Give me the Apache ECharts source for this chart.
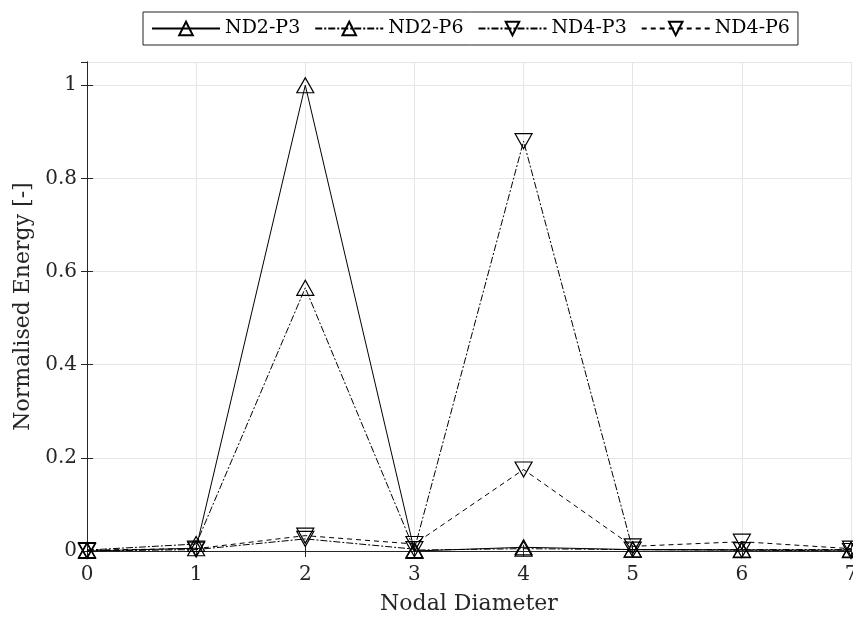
<!DOCTYPE html>
<html>
<head>
<meta charset="utf-8">
<script src="https://cdn.jsdelivr.net/npm/echarts@6/dist/echarts.min.js"></script>
<style>
  html, body { margin: 0; padding: 0; background: #fff; }
  #chart { width: 853px; height: 619px; }
</style>
</head>
<body>
<div id="chart"></div>
<script>
// Nodal diameters on the x axis
const nodalDiameters = [0, 1, 2, 3, 4, 5, 6, 7];

// Normalised energy per nodal diameter for each case
const nd2P3 = [0.000, 0.006, 1.000, 0.000, 0.008, 0.003, 0.002, 0.002];
const nd2P6 = [0.002, 0.015, 0.565, 0.002, 0.005, 0.003, 0.003, 0.003];
const nd4P3 = [0.000, 0.003, 0.026, 0.004, 0.880, 0.003, 0.002, 0.000];
const nd4P6 = [0.002, 0.005, 0.033, 0.015, 0.175, 0.010, 0.020, 0.005];

const seriesNames = ['ND2-P3', 'ND2-P6', 'ND4-P3', 'ND4-P6'];
const yTicks = [0, 0.2, 0.4, 0.6, 0.8, 1];

const upTri = 'path://M5,0 L10,9 L0,9 Z';
const downTri = 'path://M0,0 L10,0 L5,9 Z';
const font = '"DejaVu Serif", "Liberation Serif", serif';
const axisColor = '#262626';

function pairs(vals) {
  return nodalDiameters.map((x, i) => [x, vals[i]]);
}

function makeSeries(name, vals, symbol, dash) {
  return {
    name: name,
    type: 'line',
    xAxisIndex: 0,
    yAxisIndex: 0,
    data: pairs(vals),
    symbol: symbol,
    symbolSize: [17, 15],
    showAllSymbol: true,
    clip: false,
    lineStyle: { color: '#000', width: 1, type: dash },
    itemStyle: { color: 'rgba(255,255,255,0)', borderColor: '#000', borderWidth: 1.2 },
    emphasis: { disabled: true },
    animation: false
  };
}

// Mirror axes close the box and carry inward ticks on top and right
const mirrorX = {
  type: 'value', position: 'top', min: 0, max: 7, interval: 1,
  axisLine: { show: true, lineStyle: { color: axisColor } },
  axisTick: { show: true, inside: true, length: 6, lineStyle: { color: axisColor } },
  axisLabel: { show: false }, splitLine: { show: false }
};
const mirrorY = {
  type: 'value', position: 'right', min: 0, max: 1.05, interval: 0.2,
  axisLine: { show: true, lineStyle: { color: axisColor } },
  axisTick: { show: true, inside: true, length: 6, lineStyle: { color: axisColor } },
  axisLabel: { show: false }, splitLine: { show: false }
};

const chart = echarts.init(document.getElementById('chart'));
chart.setOption({
  backgroundColor: '#fff',
  animation: false,
  legend: {
    data: seriesNames,
    left: 143,
    top: 12,
    orient: 'horizontal',
    itemWidth: 68,
    itemHeight: 17,
    itemGap: 14,
    padding: [7, 8, 7, 8],
    borderColor: '#222',
    borderWidth: 1,
    textStyle: { fontFamily: font, fontSize: 19, color: '#000' }
  },
  grid: {
    left: 87,
    right: 2,
    top: 62,
    bottom: 68,
    outerBoundsMode: 'none',
    containLabel: false
  },
  xAxis: [{
    type: 'value',
    min: 0,
    max: 7,
    interval: 1,
    name: 'Nodal Diameter',
    nameLocation: 'middle',
    nameGap: 42,
    nameTextStyle: { fontFamily: font, fontSize: 22, color: axisColor },
    axisLine: { lineStyle: { color: axisColor, width: 1 } },
    axisTick: { inside: true, length: 6, lineStyle: { color: axisColor } },
    axisLabel: { fontFamily: font, fontSize: 20, color: axisColor, margin: 14 },
    splitLine: { show: true, lineStyle: { color: '#e6e6e6', width: 1 } }
  }, mirrorX],
  yAxis: [{
    type: 'value',
    min: 0,
    max: 1.05,
    interval: 0.2,
    name: 'Normalised Energy [-]',
    nameLocation: 'middle',
    nameGap: 52,
    nameTextStyle: { fontFamily: font, fontSize: 22, color: axisColor },
    axisLine: { show: true, lineStyle: { color: axisColor, width: 1 } },
    axisTick: { show: true, inside: true, length: 6, lineStyle: { color: axisColor } },
    axisLabel: {
      fontFamily: font, fontSize: 20, color: axisColor, margin: 10,
      showMaxLabel: false,
      formatter: v => (yTicks.some(t => Math.abs(t - v) < 1e-9) ? String(+v.toFixed(1)) : '')
    },
    splitLine: { show: true, lineStyle: { color: '#e6e6e6', width: 1 } }
  }, mirrorY],
  series: [
    makeSeries('ND2-P3', nd2P3, upTri, 'solid'),
    makeSeries('ND2-P6', nd2P6, upTri, [7, 2, 2, 2]),
    makeSeries('ND4-P3', nd4P3, downTri, [7, 2, 2, 2]),
    makeSeries('ND4-P6', nd4P6, downTri, [5, 4])
  ]
});
</script>
</body>
</html>
